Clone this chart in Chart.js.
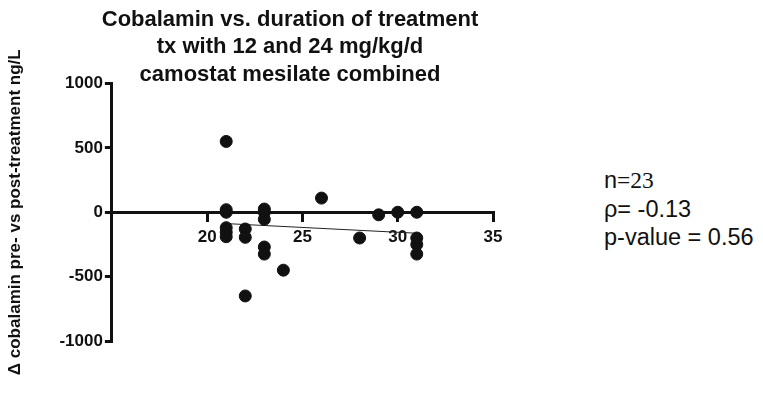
<!DOCTYPE html>
<html>
<head>
<meta charset="utf-8">
<script src="https://cdn.jsdelivr.net/npm/chart.js@4/dist/chart.umd.min.js"></script>
<style>
  body { margin: 0; background: #fff; }
  #wrap { position: relative; width: 763px; height: 408px; }
  #box { position: absolute; left: 0; top: 0; width: 580px; height: 408px; }
  #stats { position: absolute; left: 604px; top: 166px; font-family: "Liberation Sans", Arial, sans-serif;
           font-size: 23.5px; line-height: 28.5px; color: #111; }
  .serif { font-family: "Liberation Serif", serif; }
</style>
</head>
<body>
<div id="wrap">
  <div id="box"><canvas id="scatter-chartcanvas"></canvas></div>
  <div id="stats">
    <div>n<span class="serif">=23</span></div>
    <div>ρ= -0.13</div>
    <div>p-value = 0.56</div>
  </div>
</div>
<script>
// weeks of treatment and change in cobalamin (ng/L)
var weeks = [21, 21, 21, 21, 21, 21, 22, 22, 22, 23, 23, 23, 23, 23, 24, 26, 28, 29, 30, 31, 31, 31, 31];
var cobalamin = [550, 20, 0, -120, -155, -190, -130, -195, -650, 25, 0, -55, -270, -325, -450, 110, -200, -20, 0, 0, -200, -250, -325];

// fitted line ends
var fitX = [21, 31];
var fitY = [-88, -163];

var xTicks = [20, 25, 30, 35];
var yTicks = [-1000, -500, 0, 500, 1000];

var titleLines = ["Cobalamin vs. duration of treatment", "tx with 12 and 24 mg/kg/d", "camostat mesilate combined"];
var yTitle = "\u0394 cobalamin pre- vs post-treatment ng/L";

var points = [];
for (var i = 0; i < weeks.length; i++) {
  points.push({x: weeks[i], y: cobalamin[i]});
}
var fit = [];
for (var j = 0; j < fitX.length; j++) {
  fit.push({x: fitX[j], y: fitY[j]});
}

var font = "'Liberation Sans', Arial, Helvetica, sans-serif";
var ink = "#111";

var ctx = document.getElementById("scatter-chartcanvas");

var chart = new Chart(ctx, {
  type: "scatter",
  data: {
    datasets: [
      {
        label: "Cobalamin",
        data: points,
        backgroundColor: ink,
        borderColor: ink,
        pointRadius: 6,
        pointHoverRadius: 6
      },
      {
        label: "Fit",
        data: fit,
        showLine: true,
        borderColor: "#222",
        borderWidth: 1,
        pointRadius: 0,
        fill: false
      }
    ]
  },
  options: {
    responsive: true,
    maintainAspectRatio: false,
    animation: false,
    layout: {
      padding: { left: 0, right: 0, top: 0, bottom: 67 }
    },
    plugins: {
      legend: { display: false },
      tooltip: { enabled: false },
      title: {
        display: true,
        text: titleLines,
        color: ink,
        font: { family: font, size: 22, weight: "bold", lineHeight: 1.25 },
        padding: { top: 6, bottom: -5 }
      }
    },
    scales: {
      x: {
        type: "linear",
        position: { y: 0 },
        min: 15,
        max: 35,
        afterBuildTicks: function(scale) {
          scale.ticks = xTicks.map(function(v) { return {value: v}; });
        },
        border: { display: true, color: ink, width: 3 },
        grid: { display: true, drawOnChartArea: false, drawTicks: true, tickLength: 8, color: ink, lineWidth: 3 },
        ticks: {
          color: ink,
          font: { family: font, size: 17, weight: "bold" },
          padding: 7,
          maxRotation: 0
        }
      },
      y: {
        min: -1000,
        max: 1000,
        afterBuildTicks: function(scale) {
          scale.ticks = yTicks.map(function(v) { return {value: v}; });
        },
        border: { display: true, color: ink, width: 3 },
        grid: { display: true, drawOnChartArea: false, drawTicks: true, tickLength: 7, color: ink, lineWidth: 3 },
        ticks: {
          color: ink,
          font: { family: font, size: 17, weight: "bold" },
          padding: 2,
          callback: function(value) { return String(value); }
        },
        title: {
          display: true,
          text: yTitle,
          color: ink,
          font: { family: font, size: 17, weight: "bold" },
          padding: { top: 5, bottom: 32 }
        }
      },
      // empty space on the right so the plot stops at 35 while the title stays centred
      spacer: {
        type: "linear",
        position: "right",
        display: true,
        grid: { display: false },
        border: { display: false },
        ticks: { display: false },
        afterFit: function(scale) { scale.width = 87; }
      }
    }
  }
});
</script>
</body>
</html>
